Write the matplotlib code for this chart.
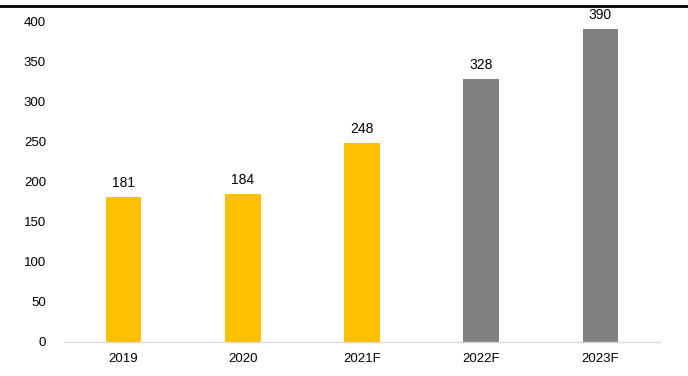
import matplotlib
matplotlib.use("Agg")
import matplotlib.pyplot as plt
from matplotlib.lines import Line2D

categories = ["2019", "2020", "2021F", "2022F", "2023F"]
values = [181, 184, 248, 328, 390]
colors = ["#FFC000", "#FFC000", "#FFC000", "#808080", "#808080"]
yticks = [0, 50, 100, 150, 200, 250, 300, 350, 400]

plt.rcParams['font.family'] = ['Liberation Sans', 'DejaVu Sans']

fig = plt.figure(figsize=(6.88, 3.76), dpi=100)
ax = fig.add_axes([64/688, 1-342/376, (660-64)/688, (342-21)/376])

x = list(range(len(categories)))
bars = ax.bar(x, values, width=0.3, color=colors)
for xi, v in zip(x, values):
    ax.annotate(str(v), (xi, v), xytext=(0, 5), textcoords="offset points",
                ha="center", va="bottom", fontsize=10, color="#000000")

ax.set_xlim(-0.5, len(categories) - 0.5)
ax.set_ylim(0, 400)
ax.set_yticks(yticks)
ax.set_xticks(x)
ax.set_xticklabels(categories)
ax.tick_params(axis="both", length=0, labelsize=9.5, colors="#000000")
ax.tick_params(axis="y", pad=13)
ax.tick_params(axis="x", pad=8)
for s in ["top", "right", "left"]:
    ax.spines[s].set_visible(False)
ax.spines["bottom"].set_color("#D9D9D9")
ax.spines["bottom"].set_linewidth(1)

fig.add_artist(Line2D([0, 1], [1-6/376, 1-6/376], color="black", linewidth=2,
                      transform=fig.transFigure))

fig.savefig("out.png", dpi=100)
